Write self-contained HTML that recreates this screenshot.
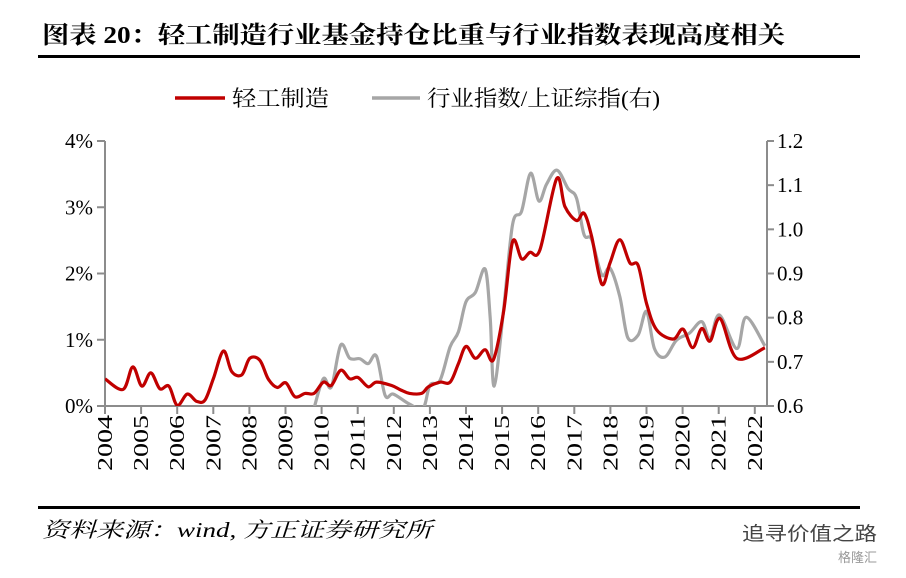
<!DOCTYPE html>
<html><head><meta charset="utf-8">
<style>
body{margin:0;background:#fff;}
svg text{font-family:"Liberation Serif","Noto Serif CJK SC",serif;}
</style></head>
<body>
<svg id="chart" width="906" height="573" viewBox="0 0 906 573" xmlns="http://www.w3.org/2000/svg">
<text x="42" y="43" font-size="24" font-weight="bold" fill="#000" textLength="743" lengthAdjust="spacingAndGlyphs" style="font-family:'Liberation Serif','Noto Serif CJK SC',serif">图表 20：轻工制造行业基金持仓比重与行业指数表现高度相关</text>
<rect x="38" y="55" width="822" height="3" fill="#000"/>
<g>
<g>
<line x1="175" y1="98" x2="225" y2="98" stroke="#c00000" stroke-width="3.5"/>
<text x="232" y="106" font-size="22" fill="#000" textLength="97" lengthAdjust="spacingAndGlyphs" style="font-family:'Liberation Serif','Noto Serif CJK SC',serif">轻工制造</text>
</g>
<g>
<line x1="372" y1="98" x2="420" y2="98" stroke="#a6a6a6" stroke-width="3.5"/>
<text x="427" y="106" font-size="22" fill="#000" textLength="233" lengthAdjust="spacingAndGlyphs" style="font-family:'Liberation Serif','Noto Serif CJK SC',serif">行业指数/上证综指(右)</text>
</g>
</g>
<defs><clipPath id="plotclip"><rect x="105" y="141" width="662" height="265"/></clipPath></defs>
<g id="axes"></g>
<g id="series" clip-path="url(#plotclip)"></g>
<rect x="38" y="506" width="822" height="3" fill="#000"/>
<text x="42" y="537" font-size="21" font-style="italic" fill="#000" textLength="390" lengthAdjust="spacingAndGlyphs" style="font-family:'Liberation Serif','Noto Serif CJK SC',serif">资料来源：wind, 方正证券研究所</text>
<text x="742" y="540" font-size="19" fill="#444" textLength="135" lengthAdjust="spacingAndGlyphs" style="font-family:'Liberation Sans','Noto Sans CJK SC',sans-serif">追寻价值之路</text>
<text x="838" y="562" font-size="13" fill="#999" style="font-family:'Liberation Sans','Noto Sans CJK SC',sans-serif">格隆汇</text>
</svg>
<script>
const yearTicks=[2004,2005,2006,2007,2008,2009,2010,2011,2012,2013,2014,2015,2016,2017,2018,2019,2020,2021,2022];
const leftTicks=[0,1,2,3,4];
const leftTickLabels=["0%","1%","2%","3%","4%"];
const rightTicks=[0.6,0.7,0.8,0.9,1.0,1.1,1.2];
const rightTickLabels=["0.6","0.7","0.8","0.9","1.0","1.1","1.2"];
const redT=[2004.0,2004.5,2004.77,2005.02,2005.27,2005.52,2005.77,2006.0,2006.28,2006.54,2006.77,2007.0,2007.28,2007.51,2007.79,2008.01,2008.29,2008.52,2008.77,2009.01,2009.26,2009.54,2009.79,2010.05,2010.27,2010.53,2010.78,2011.01,2011.29,2011.52,2011.94,2012.2,2012.44,2012.77,2012.96,2013.28,2013.56,2013.79,2014.0,2014.26,2014.53,2014.76,2015.04,2015.29,2015.54,2015.77,2016.05,2016.51,2016.74,2017.06,2017.27,2017.48,2017.76,2017.99,2018.26,2018.54,2018.77,2019.0,2019.28,2019.74,2020.01,2020.28,2020.53,2020.76,2021.04,2021.5,2022.28];
const redV=[0.41,0.25,0.59,0.30,0.50,0.26,0.30,0.01,0.18,0.07,0.09,0.41,0.83,0.52,0.47,0.72,0.69,0.41,0.28,0.35,0.14,0.19,0.19,0.36,0.31,0.54,0.41,0.43,0.29,0.36,0.31,0.24,0.19,0.19,0.29,0.36,0.36,0.64,0.90,0.72,0.85,0.70,1.42,2.48,2.22,2.32,2.36,3.43,3.01,2.80,2.91,2.56,1.84,2.16,2.51,2.16,2.12,1.55,1.15,1.01,1.16,0.88,1.17,0.98,1.32,0.72,0.88];
const grayT=[2009.79,2010.05,2010.27,2010.53,2010.78,2011.06,2011.29,2011.52,2011.76,2011.99,2012.44,2012.81,2013.0,2013.28,2013.56,2013.79,2014.0,2014.26,2014.53,2014.67,2014.78,2015.04,2015.29,2015.54,2015.79,2016.02,2016.23,2016.52,2016.83,2017.06,2017.27,2017.48,2017.76,2017.99,2018.26,2018.48,2018.77,2019.0,2019.22,2019.51,2019.83,2020.19,2020.53,2020.76,2021.02,2021.5,2021.76,2022.28];
const grayV=[0.595,0.662,0.643,0.738,0.708,0.707,0.696,0.713,0.624,0.627,0.604,0.595,0.647,0.658,0.734,0.768,0.836,0.857,0.91,0.80,0.645,0.817,1.011,1.041,1.127,1.064,1.102,1.134,1.092,1.071,0.988,0.977,0.897,0.912,0.848,0.755,0.761,0.814,0.730,0.711,0.749,0.765,0.791,0.753,0.806,0.730,0.801,0.736];

const X0=105,X1=767,YT=141,YB=406;
const xs=t=>X0+(t-2004)*36.1;
const yL=v=>YB-(v/4)*(YB-YT);
const yR=v=>YB-((v-0.6)/0.6)*(YB-YT);
const NS="http://www.w3.org/2000/svg";
function mk(tag,attrs,parent){const e=document.createElementNS(NS,tag);for(const k in attrs)e.setAttribute(k,attrs[k]);parent.appendChild(e);return e;}
const axes=document.getElementById('axes');
const AX="#8c8c8c";
let e;
e=mk('line',{x1:X0,y1:YT,x2:X0,y2:YB,stroke:AX,'stroke-width':2},axes);


e=mk('line',{x1:X1,y1:YT,x2:X1,y2:YB,stroke:AX,'stroke-width':2},axes);


e=mk('line',{x1:X0,y1:YB,x2:X1,y2:YB,stroke:AX,'stroke-width':2},axes);


leftTicks.forEach((v,i)=>{
  const y=yL(v);
  mk('line',{x1:X0-8,y1:y,x2:X0,y2:y,stroke:AX,'stroke-width':2},axes);
  const t=mk('text',{x:X0-12,y:y+7,'text-anchor':'end','font-size':21,fill:'#000'},axes);
  t.textContent=leftTickLabels[i];
  
  
});
rightTicks.forEach((v,i)=>{
  const y=yR(v);
  mk('line',{x1:X1,y1:y,x2:X1+7,y2:y,stroke:AX,'stroke-width':2},axes);
  const t=mk('text',{x:X1+10,y:y+7,'font-size':21,fill:'#000'},axes);
  t.textContent=rightTickLabels[i];
  
  
});
yearTicks.forEach(yr=>{
  const x=xs(yr);
  mk('line',{x1:x,y1:YB,x2:x,y2:YB+8,stroke:AX,'stroke-width':2},axes);
  const t=mk('text',{x:0,y:0,'text-anchor':'end','font-size':21,fill:'#000',textLength:56,lengthAdjust:'spacingAndGlyphs',transform:`translate(${x+7},${YB+9}) rotate(-90)`},axes);
  t.textContent=String(yr);
  
  
});
function smoothPath(pts){
  let d=`M${pts[0][0]},${pts[0][1]}`;
  for(let i=0;i<pts.length-1;i++){
    const p0=pts[Math.max(0,i-1)],p1=pts[i],p2=pts[i+1],p3=pts[Math.min(pts.length-1,i+2)];
    const c1=[p1[0]+(p2[0]-p0[0])/6,p1[1]+(p2[1]-p0[1])/6];
    const c2=[p2[0]-(p3[0]-p1[0])/6,p2[1]-(p3[1]-p1[1])/6];
    d+=`C${c1[0]},${c1[1]} ${c2[0]},${c2[1]} ${p2[0]},${p2[1]}`;
  }
  return d;
}
const series=document.getElementById('series');
const gp=mk('path',{d:smoothPath(grayT.map((t,i)=>[xs(t),yR(grayV[i])])),fill:'none',stroke:'#a6a6a6','stroke-width':3.2,'stroke-linejoin':'round'},series);


const rp=mk('path',{d:smoothPath(redT.map((t,i)=>[xs(t),yL(redV[i])])),fill:'none',stroke:'#c00000','stroke-width':3.2,'stroke-linejoin':'round'},series);


</script>
</body></html>
